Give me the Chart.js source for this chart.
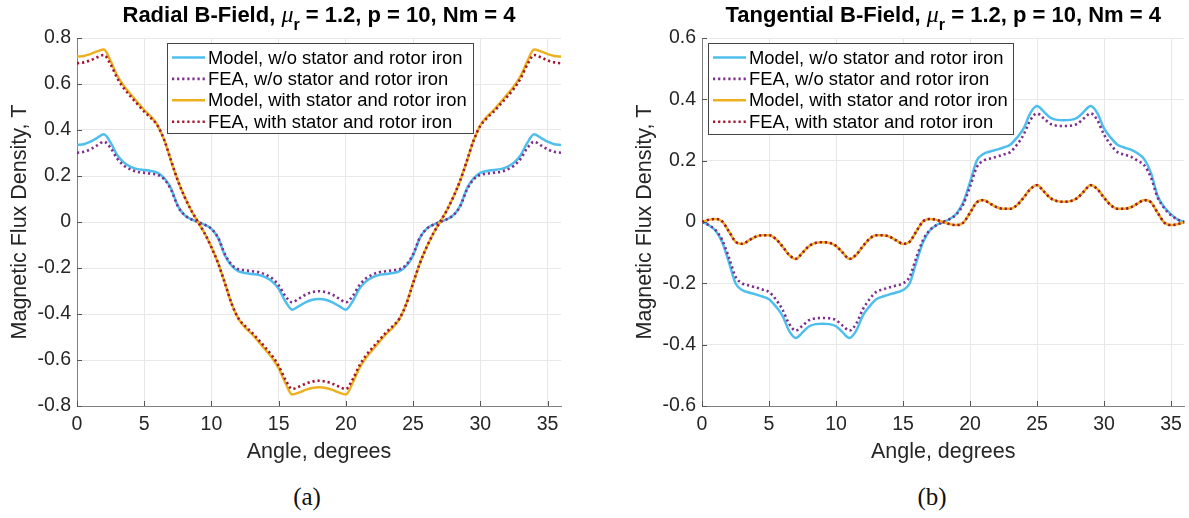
<!DOCTYPE html>
<html>
<head>
<meta charset="utf-8">
<script src="https://cdn.jsdelivr.net/npm/chart.js@4.4.1/dist/chart.umd.min.js"></script>
<style>
html, body { margin: 0; padding: 0; background: #fff; }
#wrap { position: relative; width: 1189px; height: 518px; overflow: hidden; }
.box { position: absolute; top: 0; height: 470px; }
#boxA { left: 0; width: 595px; }
#boxB { left: 595px; width: 594px; }
.cap { position: absolute; top: 482px; line-height: 30px; font-family: "Liberation Serif", "DejaVu Serif", serif; font-size: 25px; color: #111; transform: translateX(-50%); }
</style>
</head>
<body>
<div id="wrap">
  <div class="box" id="boxA"><canvas id="radial"></canvas></div>
  <div class="box" id="boxB"><canvas id="tangential"></canvas></div>
  <div class="cap" style="left:307px">(a)</div>
  <div class="cap" style="left:932px">(b)</div>
</div>
<script>
// angle samples, degrees
const angles = [0,0.5,1,1.5,2,2.5,3,3.5,4,4.5,5,5.5,6,6.5,7,7.5,8,8.5,9,9.5,10,10.5,11,11.5,12,12.5,13,13.5,14,14.5,15,15.5,16,16.5,17,17.5,18,
  18.5,19,19.5,20,20.5,21,21.5,22,22.5,23,23.5,24,24.5,25,25.5,26,26.5,27,27.5,28,28.5,29,29.5,30,30.5,31,31.5,32,32.5,33,33.5,34,34.5,35,35.5,36];

const xTicks = [0, 5, 10, 15, 20, 25, 30, 35];
const radialTicks = [-0.8, -0.6, -0.4, -0.2, 0, 0.2, 0.4, 0.6, 0.8];
const tangentialTicks = [-0.6, -0.4, -0.2, 0, 0.2, 0.4, 0.6];

const seriesNames = [
  'Model, w/o stator and rotor iron',
  'FEA, w/o stator and rotor iron',
  'Model, with stator and rotor iron',
  'FEA, with stator and rotor iron'
];

// Radial B-field, T
const radialModelAir = [0.335,0.338,0.349,0.366,0.381,0.345,0.29,0.258,0.24,0.23,0.226,0.222,0.214,0.19,0.145,0.07,0.03,0.012,0,
  -0.012,-0.03,-0.07,-0.145,-0.19,-0.214,-0.222,-0.226,-0.23,-0.24,-0.258,-0.29,-0.345,-0.381,-0.366,-0.349,-0.338,-0.335,
  -0.338,-0.349,-0.366,-0.381,-0.345,-0.29,-0.258,-0.24,-0.23,-0.226,-0.222,-0.214,-0.19,-0.145,-0.07,-0.03,-0.012,0,
  0.012,0.03,0.07,0.145,0.19,0.214,0.222,0.226,0.23,0.24,0.258,0.29,0.345,0.381,0.366,0.349,0.338,0.335];
const radialFeaAir = [0.301,0.305,0.316,0.333,0.349,0.322,0.275,0.245,0.228,0.218,0.214,0.21,0.205,0.185,0.14,0.068,0.03,0.012,0,
  -0.012,-0.03,-0.068,-0.14,-0.185,-0.205,-0.21,-0.214,-0.218,-0.228,-0.245,-0.275,-0.322,-0.349,-0.333,-0.316,-0.305,-0.301,
  -0.305,-0.316,-0.333,-0.349,-0.322,-0.275,-0.245,-0.228,-0.218,-0.214,-0.21,-0.205,-0.185,-0.14,-0.068,-0.03,-0.012,0,
  0.012,0.03,0.068,0.14,0.185,0.205,0.21,0.214,0.218,0.228,0.245,0.275,0.322,0.349,0.333,0.316,0.305,0.301];
const radialModelIron = [0.719,0.722,0.73,0.742,0.75,0.70,0.635,0.59,0.555,0.52,0.487,0.458,0.42,0.355,0.265,0.18,0.11,0.05,0,
  -0.05,-0.11,-0.18,-0.265,-0.355,-0.42,-0.458,-0.487,-0.52,-0.555,-0.59,-0.635,-0.70,-0.75,-0.742,-0.73,-0.722,-0.719,
  -0.722,-0.73,-0.742,-0.75,-0.70,-0.635,-0.59,-0.555,-0.52,-0.487,-0.458,-0.42,-0.355,-0.265,-0.18,-0.11,-0.05,0,
  0.05,0.11,0.18,0.265,0.355,0.42,0.458,0.487,0.52,0.555,0.59,0.635,0.70,0.75,0.742,0.73,0.722,0.719];
const radialFeaIron = [0.69,0.694,0.703,0.716,0.726,0.685,0.625,0.58,0.545,0.512,0.48,0.452,0.418,0.355,0.266,0.18,0.11,0.05,0,
  -0.05,-0.11,-0.18,-0.266,-0.355,-0.418,-0.452,-0.48,-0.512,-0.545,-0.58,-0.625,-0.685,-0.726,-0.716,-0.703,-0.694,-0.69,
  -0.694,-0.703,-0.716,-0.726,-0.685,-0.625,-0.58,-0.545,-0.512,-0.48,-0.452,-0.418,-0.355,-0.266,-0.18,-0.11,-0.05,0,
  0.05,0.11,0.18,0.266,0.355,0.418,0.452,0.48,0.512,0.545,0.58,0.625,0.685,0.726,0.716,0.703,0.694,0.69];

// Tangential B-field, T
const tangModelAir = [0,-0.01,-0.028,-0.065,-0.13,-0.2,-0.222,-0.23,-0.236,-0.243,-0.252,-0.275,-0.305,-0.355,-0.378,-0.36,-0.34,-0.333,-0.332,
  -0.333,-0.34,-0.36,-0.378,-0.355,-0.305,-0.275,-0.252,-0.243,-0.236,-0.23,-0.222,-0.2,-0.13,-0.065,-0.028,-0.01,0,
  0.01,0.028,0.065,0.13,0.2,0.222,0.23,0.236,0.243,0.252,0.275,0.305,0.355,0.378,0.36,0.34,0.333,0.332,
  0.333,0.34,0.36,0.378,0.355,0.305,0.275,0.252,0.243,0.236,0.224,0.205,0.16,0.085,0.048,0.025,0.008,0];
const tangFeaAir = [0,-0.01,-0.026,-0.058,-0.115,-0.178,-0.2,-0.207,-0.213,-0.22,-0.228,-0.252,-0.285,-0.332,-0.354,-0.338,-0.32,-0.314,-0.313,
  -0.314,-0.32,-0.338,-0.354,-0.332,-0.285,-0.252,-0.228,-0.22,-0.213,-0.207,-0.2,-0.178,-0.115,-0.058,-0.026,-0.01,0,
  0.01,0.026,0.058,0.115,0.178,0.2,0.207,0.213,0.22,0.228,0.252,0.285,0.332,0.354,0.338,0.32,0.314,0.313,
  0.314,0.32,0.338,0.354,0.332,0.285,0.252,0.228,0.22,0.213,0.2,0.185,0.145,0.08,0.045,0.022,0.008,0];
const tangModelIron = [0,0.007,0.01,0.002,-0.03,-0.065,-0.072,-0.06,-0.048,-0.043,-0.043,-0.055,-0.08,-0.108,-0.121,-0.1,-0.078,-0.068,-0.066,
  -0.068,-0.078,-0.1,-0.121,-0.108,-0.08,-0.055,-0.043,-0.043,-0.048,-0.06,-0.072,-0.065,-0.03,0.002,0.01,0.007,0,
  -0.007,-0.01,-0.002,0.03,0.065,0.072,0.06,0.048,0.043,0.043,0.055,0.08,0.108,0.121,0.1,0.078,0.068,0.066,
  0.068,0.078,0.1,0.121,0.108,0.08,0.055,0.043,0.043,0.048,0.06,0.072,0.065,0.03,-0.002,-0.01,-0.007,0];
const tangFeaIron = [0,0.007,0.01,0.002,-0.03,-0.064,-0.071,-0.06,-0.048,-0.043,-0.043,-0.055,-0.079,-0.107,-0.12,-0.1,-0.078,-0.068,-0.066,
  -0.068,-0.078,-0.1,-0.12,-0.107,-0.079,-0.055,-0.043,-0.043,-0.048,-0.06,-0.071,-0.064,-0.03,0.002,0.01,0.007,0,
  -0.007,-0.01,-0.002,0.03,0.064,0.071,0.06,0.048,0.043,0.043,0.055,0.079,0.107,0.12,0.1,0.078,0.068,0.066,
  0.068,0.078,0.1,0.12,0.107,0.079,0.055,0.043,0.043,0.048,0.06,0.071,0.064,0.03,-0.002,-0.01,-0.007,0];

const FONT = '"Liberation Sans", Arial, sans-serif';
Chart.defaults.font.family = FONT;
Chart.defaults.color = '#262626';

// MATLAB-like colours; later series sit on top
const styles = [
  { color: '#4DBEEE', dash: [], width: 2.5, order: 4 },
  { color: '#7E2F8E', dash: [2.2, 2.9], width: 2.6, order: 3 },
  { color: '#EDB120', dash: [], width: 2.5, order: 2 },
  { color: '#A2142F', dash: [2.2, 2.9], width: 2.6, order: 1 }
];

function makeDatasets(seriesList) {
  return seriesList.map((vals, i) => ({
    label: seriesNames[i],
    data: angles.map((a, j) => ({ x: a, y: vals[j] })),
    borderColor: styles[i].color,
    borderDash: styles[i].dash,
    borderWidth: styles[i].width,
    order: styles[i].order,
    pointRadius: 0,
    fill: false,
    cubicInterpolationMode: 'monotone'
  }));
}

// inward ticks, boxed legend and title with subscript
const matlabLook = {
  id: 'matlabLook',
  afterDraw(chart, args, opts) {
    const ctx = chart.ctx;
    const area = chart.chartArea;
    const xs = chart.scales.x, ys = chart.scales.y;
    ctx.save();

    ctx.strokeStyle = '#555';
    ctx.lineWidth = 1;
    ctx.beginPath();
    xs.ticks.forEach(t => {
      const px = Math.round(xs.getPixelForValue(t.value)) + 0.5;
      ctx.moveTo(px, area.bottom);
      ctx.lineTo(px, area.bottom - 5);
    });
    ys.ticks.forEach(t => {
      const py = Math.round(ys.getPixelForValue(t.value)) + 0.5;
      ctx.moveTo(area.left, py);
      ctx.lineTo(area.left + 5, py);
    });
    ctx.stroke();

    // legend box
    const lx = Math.round(area.left + opts.legendX), ly = Math.round(area.top + opts.legendY);
    ctx.fillStyle = '#fff';
    ctx.fillRect(lx, ly, opts.legendW, opts.legendH);
    ctx.strokeStyle = '#444';
    ctx.lineWidth = 1;
    ctx.strokeRect(lx + 0.5, ly + 0.5, opts.legendW, opts.legendH);
    ctx.font = '18.4px ' + FONT;
    ctx.textBaseline = 'middle';
    ctx.textAlign = 'left';
    chart.data.datasets.forEach((ds, i) => {
      const y = ly + 14.5 + i * 21.4;
      ctx.strokeStyle = ds.borderColor;
      ctx.lineWidth = ds.borderWidth;
      ctx.setLineDash(ds.borderDash);
      ctx.beginPath();
      ctx.moveTo(lx + 5, y);
      ctx.lineTo(lx + 38, y);
      ctx.stroke();
      ctx.setLineDash([]);
      ctx.fillStyle = '#000';
      ctx.fillText(ds.label, lx + 41, y + 1);
    });

    // title
    const parts = [
      { t: opts.title, f: 'bold 22px ' + FONT, dy: 0 },
      { t: 'μ', f: 'italic 24px "Liberation Serif", serif', dy: 0 },
      { t: 'r', f: 'bold 16px ' + FONT, dy: 8 },
      { t: ' = 1.2, p = 10, Nm = 4', f: 'bold 22px ' + FONT, dy: 0 }
    ];
    let total = 0;
    parts.forEach(p => { ctx.font = p.f; p.w = ctx.measureText(p.t).width; total += p.w; });
    let x = (area.left + area.right) / 2 - total / 2;
    ctx.fillStyle = '#000';
    ctx.textBaseline = 'alphabetic';
    parts.forEach(p => {
      ctx.font = p.f;
      ctx.fillText(p.t, x, 22 + p.dy);
      x += p.w;
    });
    ctx.restore();
  }
};

function makeChart(id, seriesList, yTicks, yMin, yMax, look, padLeft, padRight) {
  return new Chart(document.getElementById(id), {
    type: 'line',
    data: { datasets: makeDatasets(seriesList) },
    options: {
      responsive: true,
      maintainAspectRatio: false,
      animation: false,
      devicePixelRatio: 1,
      layout: { padding: { left: padLeft, right: padRight, top: 38, bottom: 0 } },
      plugins: {
        legend: { display: false },
        tooltip: { enabled: false },
        matlabLook: look
      },
      scales: {
        x: {
          type: 'linear',
          min: 0,
          max: 36,
          afterBuildTicks: s => { s.ticks = xTicks.map(v => ({ value: v })); },
          afterFit: s => { s.height = 64; },
          ticks: { font: { size: 19.5 }, padding: 7, color: '#262626', callback: v => String(v) },
          grid: { color: '#e8e8e8', drawTicks: false },
          border: { color: '#808080', width: 1 },
          title: { display: true, text: 'Angle, degrees', font: { size: 21.5 }, color: '#262626', padding: { top: 0, bottom: 5 } }
        },
        y: {
          min: yMin,
          max: yMax,
          afterBuildTicks: s => { s.ticks = yTicks.map(v => ({ value: v })); },
          afterFit: s => { s.width = 77; },
          ticks: { font: { size: 19.5 }, padding: 6, color: '#262626', callback: v => String(v) },
          grid: { color: '#e8e8e8', drawTicks: false },
          border: { color: '#808080', width: 1 },
          title: { display: true, text: 'Magnetic Flux Density, T', font: { size: 21.5 }, color: '#262626', padding: { top: 7, bottom: 0 } }
        }
      }
    },
    plugins: [matlabLook]
  });
}

makeChart('radial', [radialModelAir, radialFeaAir, radialModelIron, radialFeaIron], radialTicks, -0.8, 0.8,
  { title: 'Radial B-Field, ', legendX: 90, legendY: 5, legendW: 306, legendH: 90 }, 0, 34);
makeChart('tangential', [tangModelAir, tangFeaAir, tangModelIron, tangFeaIron], tangentialTicks, -0.6, 0.6,
  { title: 'Tangential B-Field, ', legendX: 6, legendY: 5, legendW: 305, legendH: 91 }, 30, 4);
</script>
</body>
</html>
